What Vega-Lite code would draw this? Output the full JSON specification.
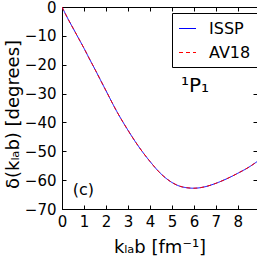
{
  "$schema": "https://vega.github.io/schema/vega-lite/v6.json",
  "autosize": {"type": "none"},
  "padding": {"left": 62, "top": 7, "right": 0, "bottom": 49},
  "width": 195,
  "height": 202,
  "background": "white",
  "config": {
    "font": "DejaVu Sans",
    "view": {"stroke": "black", "strokeWidth": 1},
    "axis": {
      "domainColor": "black",
      "tickColor": "black",
      "labelColor": "black",
      "titleColor": "black",
      "labelFont": "DejaVu Sans",
      "titleFont": "DejaVu Sans",
      "labelFontSize": 15,
      "titleFontSize": 18,
      "titleFontWeight": "normal",
      "grid": false,
      "labelFlush": false,
      "tickSize": -4
    }
  },
  "datasets": {
    "curves": [
      {"k": 0, "delta": 0, "model": "ISSP"},
      {"k": 0.25, "delta": -3.8, "model": "ISSP"},
      {"k": 0.5, "delta": -7.3, "model": "ISSP"},
      {"k": 0.75, "delta": -10.8, "model": "ISSP"},
      {"k": 1, "delta": -14.3, "model": "ISSP"},
      {"k": 1.25, "delta": -18, "model": "ISSP"},
      {"k": 1.5, "delta": -21.6, "model": "ISSP"},
      {"k": 1.75, "delta": -25.3, "model": "ISSP"},
      {"k": 2, "delta": -29, "model": "ISSP"},
      {"k": 2.5, "delta": -36.3, "model": "ISSP"},
      {"k": 3, "delta": -42.7, "model": "ISSP"},
      {"k": 3.5, "delta": -48.5, "model": "ISSP"},
      {"k": 4, "delta": -53.5, "model": "ISSP"},
      {"k": 4.5, "delta": -57.8, "model": "ISSP"},
      {"k": 5, "delta": -60.8, "model": "ISSP"},
      {"k": 5.5, "delta": -62.4, "model": "ISSP"},
      {"k": 6, "delta": -62.8, "model": "ISSP"},
      {"k": 6.5, "delta": -62.3, "model": "ISSP"},
      {"k": 7, "delta": -61.1, "model": "ISSP"},
      {"k": 7.5, "delta": -59.5, "model": "ISSP"},
      {"k": 8, "delta": -57.6, "model": "ISSP"},
      {"k": 8.5, "delta": -55.5, "model": "ISSP"},
      {"k": 8.87, "delta": -53.6, "model": "ISSP"},
      {"k": 0, "delta": 0, "model": "AV18"},
      {"k": 0.25, "delta": -3.8, "model": "AV18"},
      {"k": 0.5, "delta": -7.3, "model": "AV18"},
      {"k": 0.75, "delta": -10.8, "model": "AV18"},
      {"k": 1, "delta": -14.3, "model": "AV18"},
      {"k": 1.25, "delta": -18, "model": "AV18"},
      {"k": 1.5, "delta": -21.6, "model": "AV18"},
      {"k": 1.75, "delta": -25.3, "model": "AV18"},
      {"k": 2, "delta": -29, "model": "AV18"},
      {"k": 2.5, "delta": -36.3, "model": "AV18"},
      {"k": 3, "delta": -42.7, "model": "AV18"},
      {"k": 3.5, "delta": -48.5, "model": "AV18"},
      {"k": 4, "delta": -53.5, "model": "AV18"},
      {"k": 4.5, "delta": -57.8, "model": "AV18"},
      {"k": 5, "delta": -60.8, "model": "AV18"},
      {"k": 5.5, "delta": -62.4, "model": "AV18"},
      {"k": 6, "delta": -62.8, "model": "AV18"},
      {"k": 6.5, "delta": -62.3, "model": "AV18"},
      {"k": 7, "delta": -61.1, "model": "AV18"},
      {"k": 7.5, "delta": -59.5, "model": "AV18"},
      {"k": 8, "delta": -57.6, "model": "AV18"},
      {"k": 8.5, "delta": -55.5, "model": "AV18"},
      {"k": 8.87, "delta": -53.6, "model": "AV18"}
    ],
    "notes": [
      {"k": 6.05, "delta": -29.3, "label": "¹P₁", "size": 20},
      {"k": 0.97, "delta": -65.1, "label": "(c)", "size": 16}
    ]
  },
  "resolve": {"axis": {"x": "independent", "y": "independent"}},
  "layer": [
    {
      "data": {"name": "curves"},
      "transform": [{"filter": "datum.model === 'ISSP'"}],
      "mark": {"type": "line", "strokeWidth": 1, "interpolate": "monotone", "clip": true},
      "encoding": {
        "x": {
          "field": "k", "type": "quantitative",
          "scale": {"domain": [0, 8.87], "nice": false, "zero": false},
          "axis": {
            "orient": "bottom",
            "values": [0, 1, 2, 3, 4, 5, 6, 7, 8],
            "format": "d",
            "labelPadding": 9,
            "title": "kₗₐb [fm⁻¹]",
            "titleY": 43.5,
            "titleBaseline": "alphabetic"
          }
        },
        "y": {
          "field": "delta", "type": "quantitative",
          "scale": {"domain": [-70, 0], "nice": false, "zero": false},
          "axis": {
            "orient": "left",
            "values": [-70, -60, -50, -40, -30, -20, -10, 0],
            "format": "d",
            "labelPadding": 10,
            "title": "δ(kₗₐb) [degrees]",
            "titleX": -43.5,
            "titleY": 107,
            "titleBaseline": "alphabetic"
          }
        },
        "color": {
          "field": "model", "type": "nominal",
          "scale": {"domain": ["ISSP", "AV18"], "range": ["#0000ff", "#ff0000"]},
          "legend": {
            "title": null,
            "orient": "none",
            "legendX": 110,
            "legendY": 6,
            "symbolType": "stroke",
            "symbolSize": 289,
            "symbolStrokeWidth": 1.2,
            "labelFont": "DejaVu Sans",
            "labelFontSize": 16,
            "labelColor": "black",
            "labelOffset": 12,
            "rowPadding": 6,
            "padding": 6,
            "strokeColor": "black",
            "fillColor": "white",
            "cornerRadius": 0
          }
        },
        "strokeDash": {
          "field": "model", "type": "nominal",
          "scale": {"domain": ["ISSP", "AV18"], "range": [[1, 0], [4, 3]]},
          "legend": {
            "title": null,
            "orient": "none",
            "legendX": 110,
            "legendY": 6,
            "symbolType": "stroke",
            "symbolSize": 289,
            "symbolStrokeWidth": 1.2,
            "labelFont": "DejaVu Sans",
            "labelFontSize": 16,
            "labelColor": "black",
            "labelOffset": 12,
            "rowPadding": 6,
            "padding": 6,
            "strokeColor": "black",
            "fillColor": "white",
            "cornerRadius": 0
          }
        }
      }
    },
    {
      "data": {"name": "curves"},
      "transform": [{"filter": "datum.model === 'AV18'"}],
      "mark": {"type": "line", "strokeWidth": 1, "interpolate": "monotone", "clip": true},
      "encoding": {
        "x": {"field": "k", "type": "quantitative", "axis": null},
        "y": {"field": "delta", "type": "quantitative", "axis": null},
        "color": {"field": "model", "type": "nominal"},
        "strokeDash": {"field": "model", "type": "nominal"}
      }
    },
    {
      "data": {"name": "notes"},
      "mark": {"type": "text", "font": "DejaVu Sans", "color": "black", "align": "center", "baseline": "alphabetic"},
      "encoding": {
        "x": {"field": "k", "type": "quantitative", "axis": null},
        "y": {"field": "delta", "type": "quantitative", "axis": null},
        "text": {"field": "label"},
        "size": {"field": "size", "type": "quantitative", "scale": null, "legend": null}
      }
    },
    {
      "data": {"name": "notes"},
      "mark": {"type": "point", "opacity": 0},
      "encoding": {
        "x": {
          "field": "k", "type": "quantitative",
          "axis": {"orient": "top", "values": [0, 1, 2, 3, 4, 5, 6, 7, 8], "labels": false, "title": null}
        },
        "y": {
          "field": "delta", "type": "quantitative",
          "axis": {"orient": "right", "values": [-70, -60, -50, -40, -30, -20, -10, 0], "labels": false, "title": null}
        }
      }
    }
  ]
}
